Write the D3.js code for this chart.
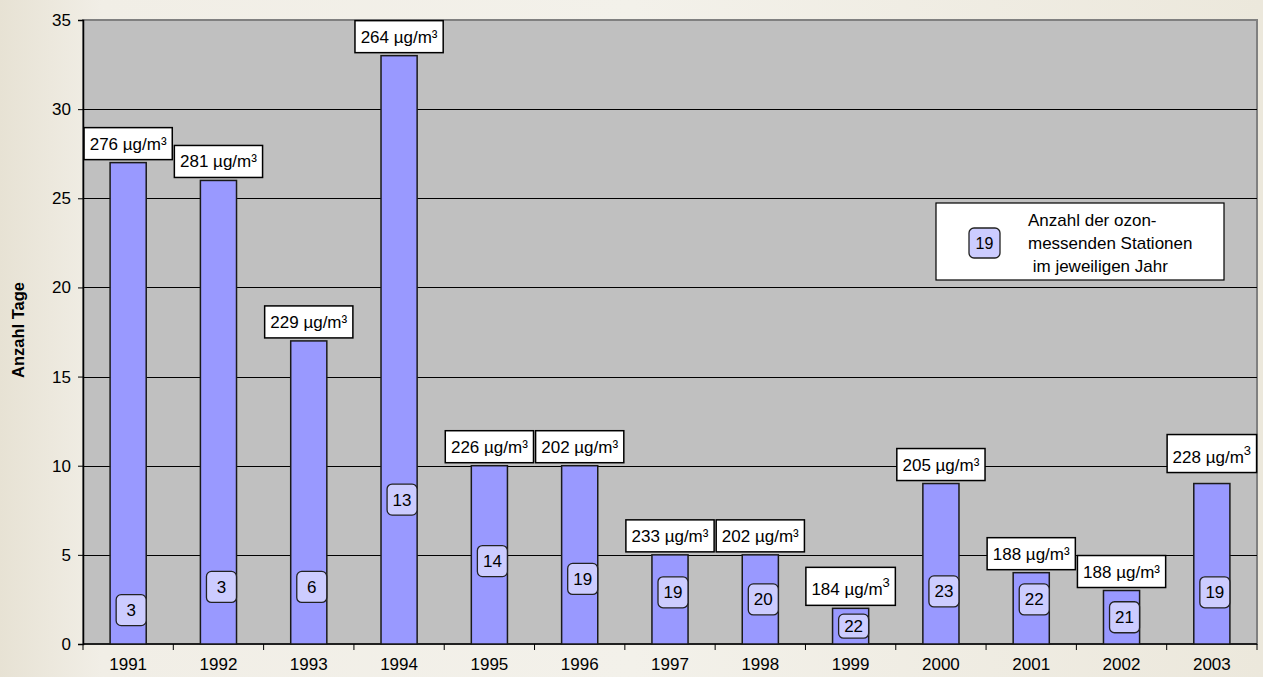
<!DOCTYPE html>
<html>
<head>
<meta charset="utf-8">
<script src="https://cdn.jsdelivr.net/npm/d3@7"></script>
<style>
  html, body { margin: 0; padding: 0; background: #efece3; }
  svg { display: block; font-family: "Liberation Sans", Arial, sans-serif; }
</style>
</head>
<body>
<svg id="chart" width="1263" height="677"></svg>
<script>
// ---- data ----
const years = ["1991","1992","1993","1994","1995","1996","1997","1998","1999","2000","2001","2002","2003"];
const days = [27, 26, 17, 33, 10, 10, 5, 5, 2, 9, 4, 3, 9];
const maxValues = [276, 281, 229, 264, 226, 202, 233, 202, 184, 205, 188, 188, 228];
const supStyle = [false, false, false, false, false, false, false, false, true, false, false, false, true];
const stations = [3, 3, 6, 13, 14, 19, 19, 20, 22, 23, 22, 21, 19];
const stationLevel = [1.9, 3.2, 3.2, 8.1, 4.65, 3.65, 2.9, 2.5, 1.0, 2.95, 2.5, 1.5, 2.9];
const yTicks = [0, 5, 10, 15, 20, 25, 30, 35];
const yTitle = "Anzahl Tage";
const unit = "µg/m";
const legendLines = ["Anzahl der ozon-", "messenden Stationen", "\u00a0im jeweiligen Jahr"];
const legendBadge = "19";

// ---- layout ----
const svg = d3.select("#chart");
const W = 1263, H = 677;
const plot = { left: 83, right: 1257, top: 20, bottom: 644 };
const FS = 17;

// background
const defs = svg.append("defs");
const bg = defs.append("linearGradient").attr("id", "bg").attr("x1", 0).attr("x2", 1).attr("y1", 0).attr("y2", 0);
bg.append("stop").attr("offset", "0").attr("stop-color", "#e7e2d4");
bg.append("stop").attr("offset", "0.08").attr("stop-color", "#f1eee6");
bg.append("stop").attr("offset", "0.5").attr("stop-color", "#f3f1ea");
bg.append("stop").attr("offset", "1").attr("stop-color", "#ece8dc");
svg.append("rect").attr("width", W).attr("height", H).attr("fill", "url(#bg)");

const x = d3.scaleBand().domain(years).range([plot.left, plot.right]).paddingInner(0.6).paddingOuter(0.3);
const y = d3.scaleLinear().domain([0, 35]).range([plot.bottom, plot.top]);

// plot area
svg.append("rect")
  .attr("x", plot.left).attr("y", plot.top)
  .attr("width", plot.right - plot.left).attr("height", plot.bottom - plot.top)
  .attr("fill", "#c0c0c0").attr("stroke", "#808080").attr("stroke-width", 2);

// gridlines
svg.append("g").selectAll("line").data(yTicks.filter(t => t > 0 && t < 35)).join("line")
  .attr("x1", plot.left).attr("x2", plot.right)
  .attr("y1", d => Math.round(y(d)) + 0.5).attr("y2", d => Math.round(y(d)) + 0.5)
  .attr("stroke", "#000").attr("stroke-width", 1);

// y axis
const yAxis = svg.append("g").attr("transform", `translate(${plot.left},0)`)
  .call(d3.axisLeft(y).tickValues(yTicks).tickSize(5).tickPadding(7));
yAxis.attr("font-family", null).attr("font-size", null);
yAxis.selectAll("text").attr("font-size", FS).attr("fill", "#000");
yAxis.selectAll("line").attr("stroke", "#000");
yAxis.select(".domain").attr("stroke", "#000").attr("stroke-width", 1.5);

// x axis
const xAxisG = svg.append("g").attr("transform", `translate(0,${plot.bottom})`);
xAxisG.append("line").attr("x1", plot.left).attr("x2", plot.right).attr("y1", 0).attr("y2", 0)
  .attr("stroke", "#000").attr("stroke-width", 1.5);
const step = x.step();
const boundaries = years.map((d, i) => plot.left + i * step).concat([plot.right]);
xAxisG.selectAll("line.tk").data(boundaries).join("line").attr("class", "tk")
  .attr("x1", d => d).attr("x2", d => d).attr("y1", 0).attr("y2", 6)
  .attr("stroke", "#000");
xAxisG.selectAll("text").data(years).join("text")
  .attr("x", d => x(d) + x.bandwidth() / 2).attr("y", 26)
  .attr("text-anchor", "middle").attr("font-size", FS).attr("fill", "#000")
  .text(d => d);

// y title
svg.append("text")
  .attr("transform", `translate(24,330) rotate(-90)`)
  .attr("text-anchor", "middle").attr("font-size", 16.5).attr("font-weight", "bold")
  .text(yTitle);

// bars
svg.append("g").selectAll("rect").data(years).join("rect")
  .attr("x", d => x(d)).attr("width", x.bandwidth())
  .attr("y", (d, i) => y(days[i])).attr("height", (d, i) => y(0) - y(days[i]))
  .attr("fill", "#9999ff").attr("stroke", "#1a1a1a").attr("stroke-width", 1.5);

// value label boxes
const lblG = svg.append("g");
years.forEach((yr, i) => {
  const cx = x(yr) + x.bandwidth() / 2;
  const gap = i === 12 ? 11 : 3;
  const boxBottom = y(days[i]) - gap;
  const boxH = supStyle[i] ? 38 : 32;
  const g = lblG.append("g");
  const rect = g.append("rect");
  const t = g.append("text").attr("x", cx).attr("y", boxBottom - 10)
    .attr("text-anchor", "middle").attr("font-size", FS).attr("fill", "#000");
  if (supStyle[i]) {
    t.append("tspan").text(maxValues[i] + " " + unit);
    t.append("tspan").attr("dy", -8).attr("font-size", 13).text("3");
  } else {
    t.text(maxValues[i] + " " + unit + "³");
  }
  const bb = t.node().getBBox();
  const bw = bb.width + 11;
  rect.attr("x", cx - bw / 2).attr("y", boxBottom - boxH).attr("width", bw).attr("height", boxH)
    .attr("fill", "#fff").attr("stroke", "#000").attr("stroke-width", 1.5);
});

// station badges
const bdG = svg.append("g");
years.forEach((yr, i) => {
  const cx = x(yr) + x.bandwidth() / 2 + 3;
  const cy = y(stationLevel[i]);
  const h = i === 8 ? 24 : 31;
  bdG.append("rect").attr("x", cx - 15).attr("y", cy - h / 2).attr("width", 30).attr("height", h)
    .attr("rx", 5).attr("ry", 5)
    .attr("fill", "#ccccff").attr("stroke", "#222").attr("stroke-width", 1.3);
  bdG.append("text").attr("x", cx).attr("y", cy + 6)
    .attr("text-anchor", "middle").attr("font-size", FS).attr("fill", "#000")
    .text(stations[i]);
});

// legend
const lg = svg.append("g");
lg.append("rect").attr("x", 936).attr("y", 203).attr("width", 288).attr("height", 77)
  .attr("fill", "#fff").attr("stroke", "#000").attr("stroke-width", 1.2);
lg.append("rect").attr("x", 969).attr("y", 228).attr("width", 31).attr("height", 30)
  .attr("rx", 5).attr("ry", 5).attr("fill", "#ccccff").attr("stroke", "#222").attr("stroke-width", 1.3);
lg.append("text").attr("x", 984.5).attr("y", 249).attr("text-anchor", "middle")
  .attr("font-size", 16).text(legendBadge);
lg.selectAll("text.ll").data(legendLines).join("text").attr("class", "ll")
  .attr("x", 1028).attr("y", (d, i) => 226 + i * 23)
  .attr("font-size", FS).attr("fill", "#000")
  .text(d => d);
</script>
</body>
</html>
